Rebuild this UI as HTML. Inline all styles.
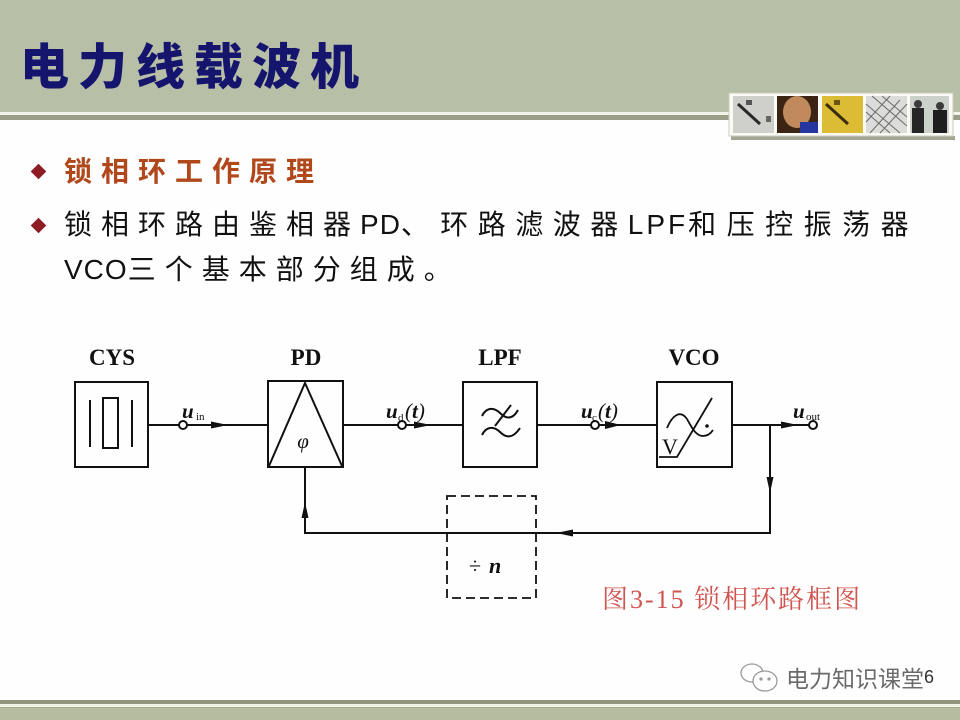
<!DOCTYPE html>
<html>
<head>
<meta charset="utf-8">
<style>
html,body{margin:0;padding:0;}
body{width:960px;height:720px;overflow:hidden;position:relative;background:#fefefe;font-family:"Liberation Sans","Noto Sans CJK SC",sans-serif;}
.abs{position:absolute;}
#hdr{left:0;top:0;width:960px;height:112px;background:#b8bfa7;}
#l1{left:0;top:112px;width:960px;height:3px;background:#f3f5ec;}
#l2{left:0;top:115px;width:960px;height:5px;background:#9b9f89;}
#title{left:20px;top:35px;font-family:"Noto Sans CJK SC",sans-serif;font-weight:900;font-size:49px;line-height:58px;letter-spacing:9px;color:#15156d;white-space:nowrap;}
.dia{width:11px;height:11px;background:#8e1c24;transform:rotate(45deg);}
.txt{font-family:"Liberation Sans","Noto Sans CJK SC",sans-serif;font-size:28px;line-height:34px;letter-spacing:9px;white-space:nowrap;color:#111;}
.lat{letter-spacing:1px;}
#b1{color:#b0481c;font-weight:bold;}
#cap{left:602px;top:584px;font-family:"Liberation Serif","Noto Serif CJK SC",serif;font-size:26px;line-height:32px;letter-spacing:2px;color:#d0544f;white-space:nowrap;}
#wm{left:786px;top:662px;font-family:"Noto Sans CJK SC",sans-serif;font-size:23px;line-height:30px;color:#6a6a6a;white-space:nowrap;}
#pg{left:924px;top:666px;font-size:18px;line-height:22px;color:#333;}
#bb1{left:0;top:700px;width:960px;height:4px;background:#8f957c;}
#bb2{left:0;top:704px;width:960px;height:3px;background:#eff2e3;}
#bb3{left:0;top:707px;width:960px;height:1px;background:#a6ac92;}
#bb4{left:0;top:708px;width:960px;height:12px;background:#b5bca0;}
</style>
</head>
<body>
<div id="hdr" class="abs"></div>
<div id="l1" class="abs"></div>
<div id="l2" class="abs"></div>
<div id="title" class="abs">电力线载波机</div>

<!-- photo strip -->
<svg class="abs" style="left:0;top:0" width="960" height="150" viewBox="0 0 960 150">
  <rect x="731" y="136" width="224" height="4" fill="#a3a791"/>
  <rect x="729" y="93" width="224" height="43" fill="#fbfbf6" stroke="#c9ccbd" stroke-width="1"/>
  <rect x="733" y="96" width="41" height="37" fill="#cfd0cc"/>
  <line x1="738" y1="104" x2="760" y2="124" stroke="#2a2a2a" stroke-width="3"/>
  <rect x="746" y="100" width="6" height="5" fill="#555"/>
  <rect x="766" y="116" width="5" height="6" fill="#666"/>
  <rect x="777" y="96" width="41" height="37" fill="#3b2414"/>
  <ellipse cx="797" cy="112" rx="14" ry="16" fill="#c08a5c"/>
  <rect x="800" y="122" width="18" height="11" fill="#2636a0"/>
  <rect x="822" y="96" width="41" height="37" fill="#dcbc34"/>
  <line x1="826" y1="104" x2="848" y2="124" stroke="#3a2c10" stroke-width="3"/>
  <rect x="834" y="100" width="6" height="5" fill="#6a5418"/>
  <rect x="866" y="96" width="41" height="37" fill="#dcdcda"/>
  <path d="M866,104 L900,133 M866,112 L890,133 M872,96 L907,126 M882,96 L907,117 M870,133 L900,100 M880,133 L907,104 M866,122 L890,96" stroke="#6a6a6a" stroke-width="1"/>
  <rect x="910" y="96" width="39" height="37" fill="#cdd1cc"/>
  <rect x="912" y="108" width="12" height="25" fill="#252525"/>
  <circle cx="918" cy="104" r="4" fill="#3a3a3a"/>
  <rect x="933" y="110" width="14" height="23" fill="#1e1e1e"/>
  <circle cx="940" cy="106" r="4" fill="#3a3a3a"/>
</svg>

<!-- bullets -->
<div class="abs dia" style="left:33px;top:166px"></div>
<div class="abs txt" id="b1" style="left:64px;top:155px">锁相环工作原理</div>
<div class="abs dia" style="left:33px;top:220px"></div>
<div class="abs txt" style="left:64px;top:208px">锁相环路由鉴相器<span class="lat">PD</span>、<span style="letter-spacing:0">&#8202;</span><span style="letter-spacing:9.5px">环路滤波器</span><span style="letter-spacing:3px">LPF</span><span style="letter-spacing:10.5px">和压控振荡器</span></div>
<div class="abs txt" style="left:64px;top:253px"><span class="lat">VCO</span>三个基本部分组成。</div>

<!-- diagram -->
<svg class="abs" style="left:0;top:0" width="960" height="720" viewBox="0 0 960 720">
  <g font-family="Liberation Serif, serif" font-weight="bold" font-size="23" fill="#111" text-anchor="middle">
    <text x="112" y="365">CYS</text>
    <text x="306" y="365">PD</text>
    <text x="500" y="365">LPF</text>
    <text x="694" y="365">VCO</text>
  </g>
  <g fill="none" stroke="#111" stroke-width="2">
    <rect x="75" y="382" width="73" height="85"/>
    <rect x="268" y="381" width="75" height="86"/>
    <rect x="463" y="382" width="74" height="85"/>
    <rect x="657" y="382" width="75" height="85"/>
    <line x1="90" y1="400" x2="90" y2="447"/>
    <rect x="103" y="398" width="15" height="50"/>
    <line x1="132" y1="400" x2="132" y2="447"/>
    <polyline points="269,466 305,383 342,466"/>
    <path d="M482,416 C487,406 495,408 500,413 S512,421 518,410"/>
    <path d="M495,426 L511,405"/>
    <path d="M482,435 C487,425 495,427 500,432 S512,440 520,428"/>
    <path d="M667,428 C672,416 680,409 687,419 C692,428 696,436 703,436 C708,436 711,433 713,430" stroke-width="1.8"/>
    <path d="M659,457 L677,457 L712,398" stroke-width="1.8"/>
    <line x1="148" y1="425" x2="179" y2="425"/>
    <line x1="187" y1="425" x2="268" y2="425"/>
    <circle cx="183" cy="425" r="4"/>
    <line x1="343" y1="425" x2="398" y2="425"/>
    <line x1="406" y1="425" x2="463" y2="425"/>
    <circle cx="402" cy="425" r="4"/>
    <line x1="537" y1="425" x2="591" y2="425"/>
    <line x1="599" y1="425" x2="657" y2="425"/>
    <circle cx="595" cy="425" r="4"/>
    <line x1="732" y1="425" x2="809" y2="425"/>
    <circle cx="813" cy="425" r="4"/>
    <polyline points="770,425 770,533 305,533 305,467"/>
    <rect x="447" y="496" width="89" height="102" stroke-dasharray="9,5" stroke-width="1.8"/>
  </g>
  <circle cx="707" cy="426" r="1.8" fill="#111"/>
  <text x="662" y="454" font-family="Liberation Serif, serif" font-size="22" fill="#111">V</text>
  <g fill="#111">
    <polygon points="228,425 211,421.5 211,428.5"/>
    <polygon points="431,425 414,421.5 414,428.5"/>
    <polygon points="621,425 605,421 605,429"/>
    <polygon points="798,425 781,421.5 781,428.5"/>
    <polygon points="770,493 766.5,477 773.5,477"/>
    <polygon points="556,533 573,529.5 573,536.5"/>
    <polygon points="305,502 301.5,518 308.5,518"/>
  </g>
  <g font-family="Liberation Serif, serif" fill="#111">
    <text x="182" y="418" font-size="21" font-style="italic" font-weight="bold">u</text>
    <text x="196" y="420" font-size="11">in</text>
    <text x="386" y="418" font-size="21" font-style="italic" font-weight="bold">u</text>
    <text x="398" y="421" font-size="11">d</text>
    <text x="405" y="418" font-size="21" font-style="italic">(<tspan font-weight="bold">t</tspan>)</text>
    <text x="581" y="418" font-size="21" font-style="italic" font-weight="bold">u</text>
    <text x="592" y="421" font-size="11">c</text>
    <text x="598" y="418" font-size="21" font-style="italic">(<tspan font-weight="bold">t</tspan>)</text>
    <text x="793" y="418" font-size="21" font-style="italic" font-weight="bold">u</text>
    <text x="806" y="420" font-size="11">out</text>
    <text x="303" y="448" font-size="21" font-style="italic" text-anchor="middle">φ</text>
    <text x="469" y="573" font-size="22">÷</text>
    <text x="489" y="573" font-size="22" font-style="italic" font-weight="bold">n</text>
  </g>
  <g fill="none" stroke="#9a9a9a" stroke-width="1.3">
    <ellipse cx="752" cy="673" rx="11" ry="9"/>
    <ellipse cx="765" cy="681" rx="12" ry="10" fill="#fefefe"/>
    <circle cx="761" cy="679" r="1" fill="#9a9a9a"/>
    <circle cx="769" cy="679" r="1" fill="#9a9a9a"/>
  </g>
</svg>

<div id="cap" class="abs">图3-15 锁相环路框图</div>
<div id="wm" class="abs">电力知识课堂</div>
<div id="pg" class="abs">6</div>

<div id="bb1" class="abs"></div>
<div id="bb2" class="abs"></div>
<div id="bb3" class="abs"></div>
<div id="bb4" class="abs"></div>
</body>
</html>
